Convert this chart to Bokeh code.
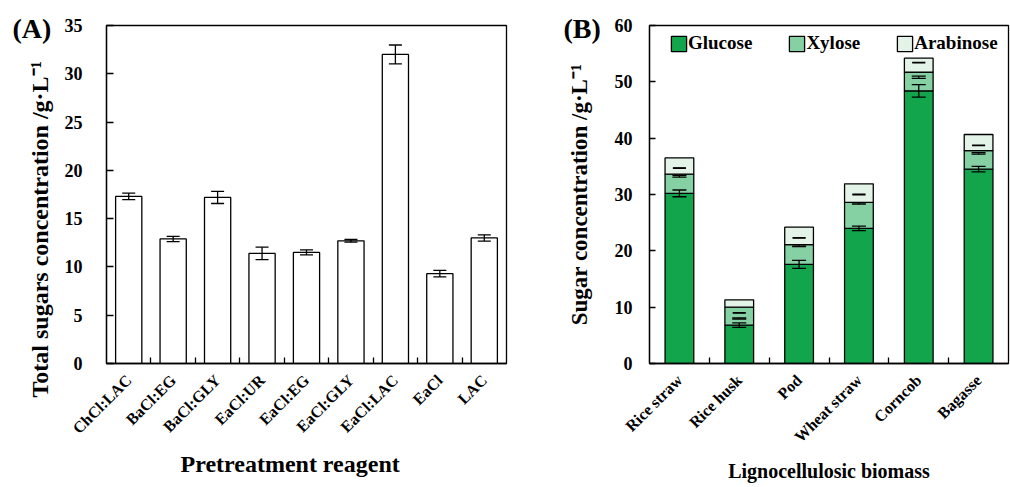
from math import pi
import numpy as np
from bokeh.plotting import figure
from bokeh.models import (ColumnDataSource, Whisker, TeeHead, FixedTicker, Title,
                          Legend, LegendItem, Range1d)
from bokeh.layouts import row
from bokeh.embed import file_html
from bokeh.resources import INLINE

# ---------------- data: panel A ----------------
reagents = ["ChCl:LAC", "BaCl:EG", "BaCl:GLY", "EaCl:UR", "EaCl:EG",
            "EaCl:GLY", "EaCl:LAC", "EaCl", "LAC"]
total_sugars = [17.3, 12.9, 17.2, 11.4, 11.5, 12.7, 32.0, 9.3, 13.0]
total_err = [0.34, 0.27, 0.63, 0.65, 0.26, 0.14, 0.98, 0.34, 0.32]
a_yticks = [0, 5, 10, 15, 20, 25, 30, 35]

# ---------------- data: panel B ----------------
biomass = ["Rice straw", "Rice husk", "Pod", "Wheat straw", "Corncob", "Bagasse"]
glucose = [30.2, 6.8, 17.6, 24.0, 48.4, 34.5]
glucose_err = [0.6, 0.4, 0.7, 0.4, 1.1, 0.5]
xylose = [3.4, 3.2, 3.5, 4.6, 3.3, 3.3]
xylose_err = [0.15, 0.1, 0.15, 0.12, 0.2, 0.15]
xylose_err_at = [33.25, 8.0, 20.9, 28.4, 50.8, 37.3]
arabinose = [2.9, 1.3, 3.1, 3.3, 2.5, 2.85]
arabinose_err = [0.04, 0.04, 0.04, 0.04, 0.04, 0.04]
arabinose_err_at = [34.7, 9.0, 22.3, 30.0, 53.4, 38.7]
b_yticks = [0, 10, 20, 30, 40, 50, 60]
series_names = ["Glucose", "Xylose", "Arabinose"]
series_colors = ["#12a54c", "#86d1a4", "#e4f3e8"]

FONT = "Liberation Serif"
LW = 1.3


def style_axes(p, ytick_px=7):
    for ax in p.axis:
        ax.axis_line_color = "black"
        ax.axis_line_width = LW
        ax.major_label_text_font = FONT
        ax.major_label_text_font_style = "bold"
        ax.major_label_text_color = "black"
        ax.major_label_text_font_size = "16px"
        ax.axis_label_text_font = FONT
        ax.axis_label_text_font_style = "bold"
        ax.axis_label_text_color = "black"
    p.yaxis.major_label_text_font_size = "18px"
    p.yaxis.major_tick_in = ytick_px
    p.yaxis.major_tick_out = 0
    p.yaxis.major_tick_line_color = "black"
    p.yaxis.major_tick_line_width = LW
    p.yaxis.minor_tick_line_color = None
    p.xaxis.major_tick_line_color = None
    p.xaxis.minor_tick_in = 6
    p.xaxis.minor_tick_out = 0
    p.xaxis.minor_tick_line_color = "black"
    p.xaxis.minor_tick_line_width = LW
    p.xaxis.major_label_orientation = pi / 4
    p.xgrid.visible = False
    p.ygrid.visible = False
    p.outline_line_color = "black"
    p.outline_line_width = LW
    p.background_fill_color = "white"
    p.border_fill_color = "white"


def add_err(p, xs, mid, e, w):
    s = ColumnDataSource(dict(x=xs, up=list(mid + e), lo=list(mid - e)))
    p.add_layout(Whisker(source=s, base="x", upper="up", lower="lo", dimension="height",
                         level="overlay", line_color="black", line_width=LW,
                         upper_head=TeeHead(size=w, line_color="black", line_width=LW),
                         lower_head=TeeHead(size=w, line_color="black", line_width=LW)))


def panel_tag(p, text, offset):
    p.add_layout(Title(text=text, align="left", offset=offset, standoff=-36,
                       vertical_align="bottom", text_font=FONT, text_font_style="bold",
                       text_font_size="28px", text_color="black"), "above")


# ================= Panel A =================
na = len(reagents)
xa = [i + 0.5 for i in range(na)]
pa = figure(width=540, height=487, x_range=Range1d(0, na), y_range=Range1d(0, 35),
            output_backend="svg", toolbar_location=None,
            min_border_left=106, min_border_right=34, min_border_top=24, min_border_bottom=122)
pa.vbar(x=xa, top=total_sugars, width=0.59, fill_color="white",
        line_color="black", line_width=LW)
add_err(pa, xa, np.array(total_sugars), np.array(total_err), 13)
style_axes(pa, 7)
pa.xaxis.ticker = FixedTicker(ticks=xa, minor_ticks=list(range(1, na)))
pa.xaxis.major_label_overrides = {x: r for x, r in zip(xa, reagents)}
pa.xaxis.major_label_standoff = 8
pa.add_layout(Title(text="Pretreatment reagent", align="left", offset=74, standoff=7,
                    text_font=FONT, text_font_style="bold", text_font_size="24px",
                    text_color="black"), "below")
pa.yaxis.ticker = FixedTicker(ticks=a_yticks)
pa.yaxis.major_label_standoff = 24
pa.add_layout(Title(text="Total sugars concentration /g·L⁻¹", align="left", offset=-34,
                    standoff=17, text_font=FONT, text_font_style="bold",
                    text_font_size="24px", text_color="black"), "left")
panel_tag(pa, "(A)", -94)

# ================= Panel B =================
nb = len(biomass)
xb = [i + 0.5 for i in range(nb)]
pb = figure(width=470, height=487, x_range=Range1d(0, nb), y_range=Range1d(0, 60),
            output_backend="svg", toolbar_location=None,
            min_border_left=109, min_border_right=2, min_border_top=25, min_border_bottom=124)
src_b = ColumnDataSource(dict(x=xb, Glucose=glucose, Xylose=xylose, Arabinose=arabinose))
rends = pb.vbar_stack(series_names, x="x", width=0.48, source=src_b,
                      fill_color=series_colors, line_color="black", line_width=LW)

add_err(pb, xb, np.array(glucose), np.array(glucose_err), 14)
add_err(pb, xb, np.array(xylose_err_at), np.array(xylose_err), 14)
add_err(pb, xb, np.array(arabinose_err_at), np.array(arabinose_err), 13)

style_axes(pb, 6)
pb.xaxis.ticker = FixedTicker(ticks=xb, minor_ticks=list(range(1, nb)))
pb.xaxis.major_label_overrides = {x: b for x, b in zip(xb, biomass)}
pb.xaxis.major_label_standoff = 8
pb.xaxis.axis_label = "Lignocellulosic biomass"
pb.xaxis.axis_label_text_font_size = "20px"
pb.xaxis.axis_label_standoff = 6
pb.yaxis.ticker = FixedTicker(ticks=b_yticks)
pb.yaxis.major_label_standoff = 17
pb.yaxis.axis_label = "Sugar concentration /g·L⁻¹"
pb.yaxis.axis_label_text_font_size = "23px"
pb.yaxis.axis_label_standoff = 20

legend = Legend(items=[LegendItem(label=n, renderers=[r]) for n, r in zip(series_names, rends)],
                orientation="horizontal", location=(20, 309), padding=0, margin=0,
                spacing=35, glyph_width=19, glyph_height=19, label_standoff=-4,
                label_text_font=FONT, label_text_font_style="bold",
                label_text_font_size="19px", label_text_color="black",
                border_line_color=None, background_fill_alpha=0)
pb.add_layout(legend)
panel_tag(pb, "(B)", -86)

layout = row(pa, pb)
open("out.html", "w").write(file_html(layout, INLINE))
